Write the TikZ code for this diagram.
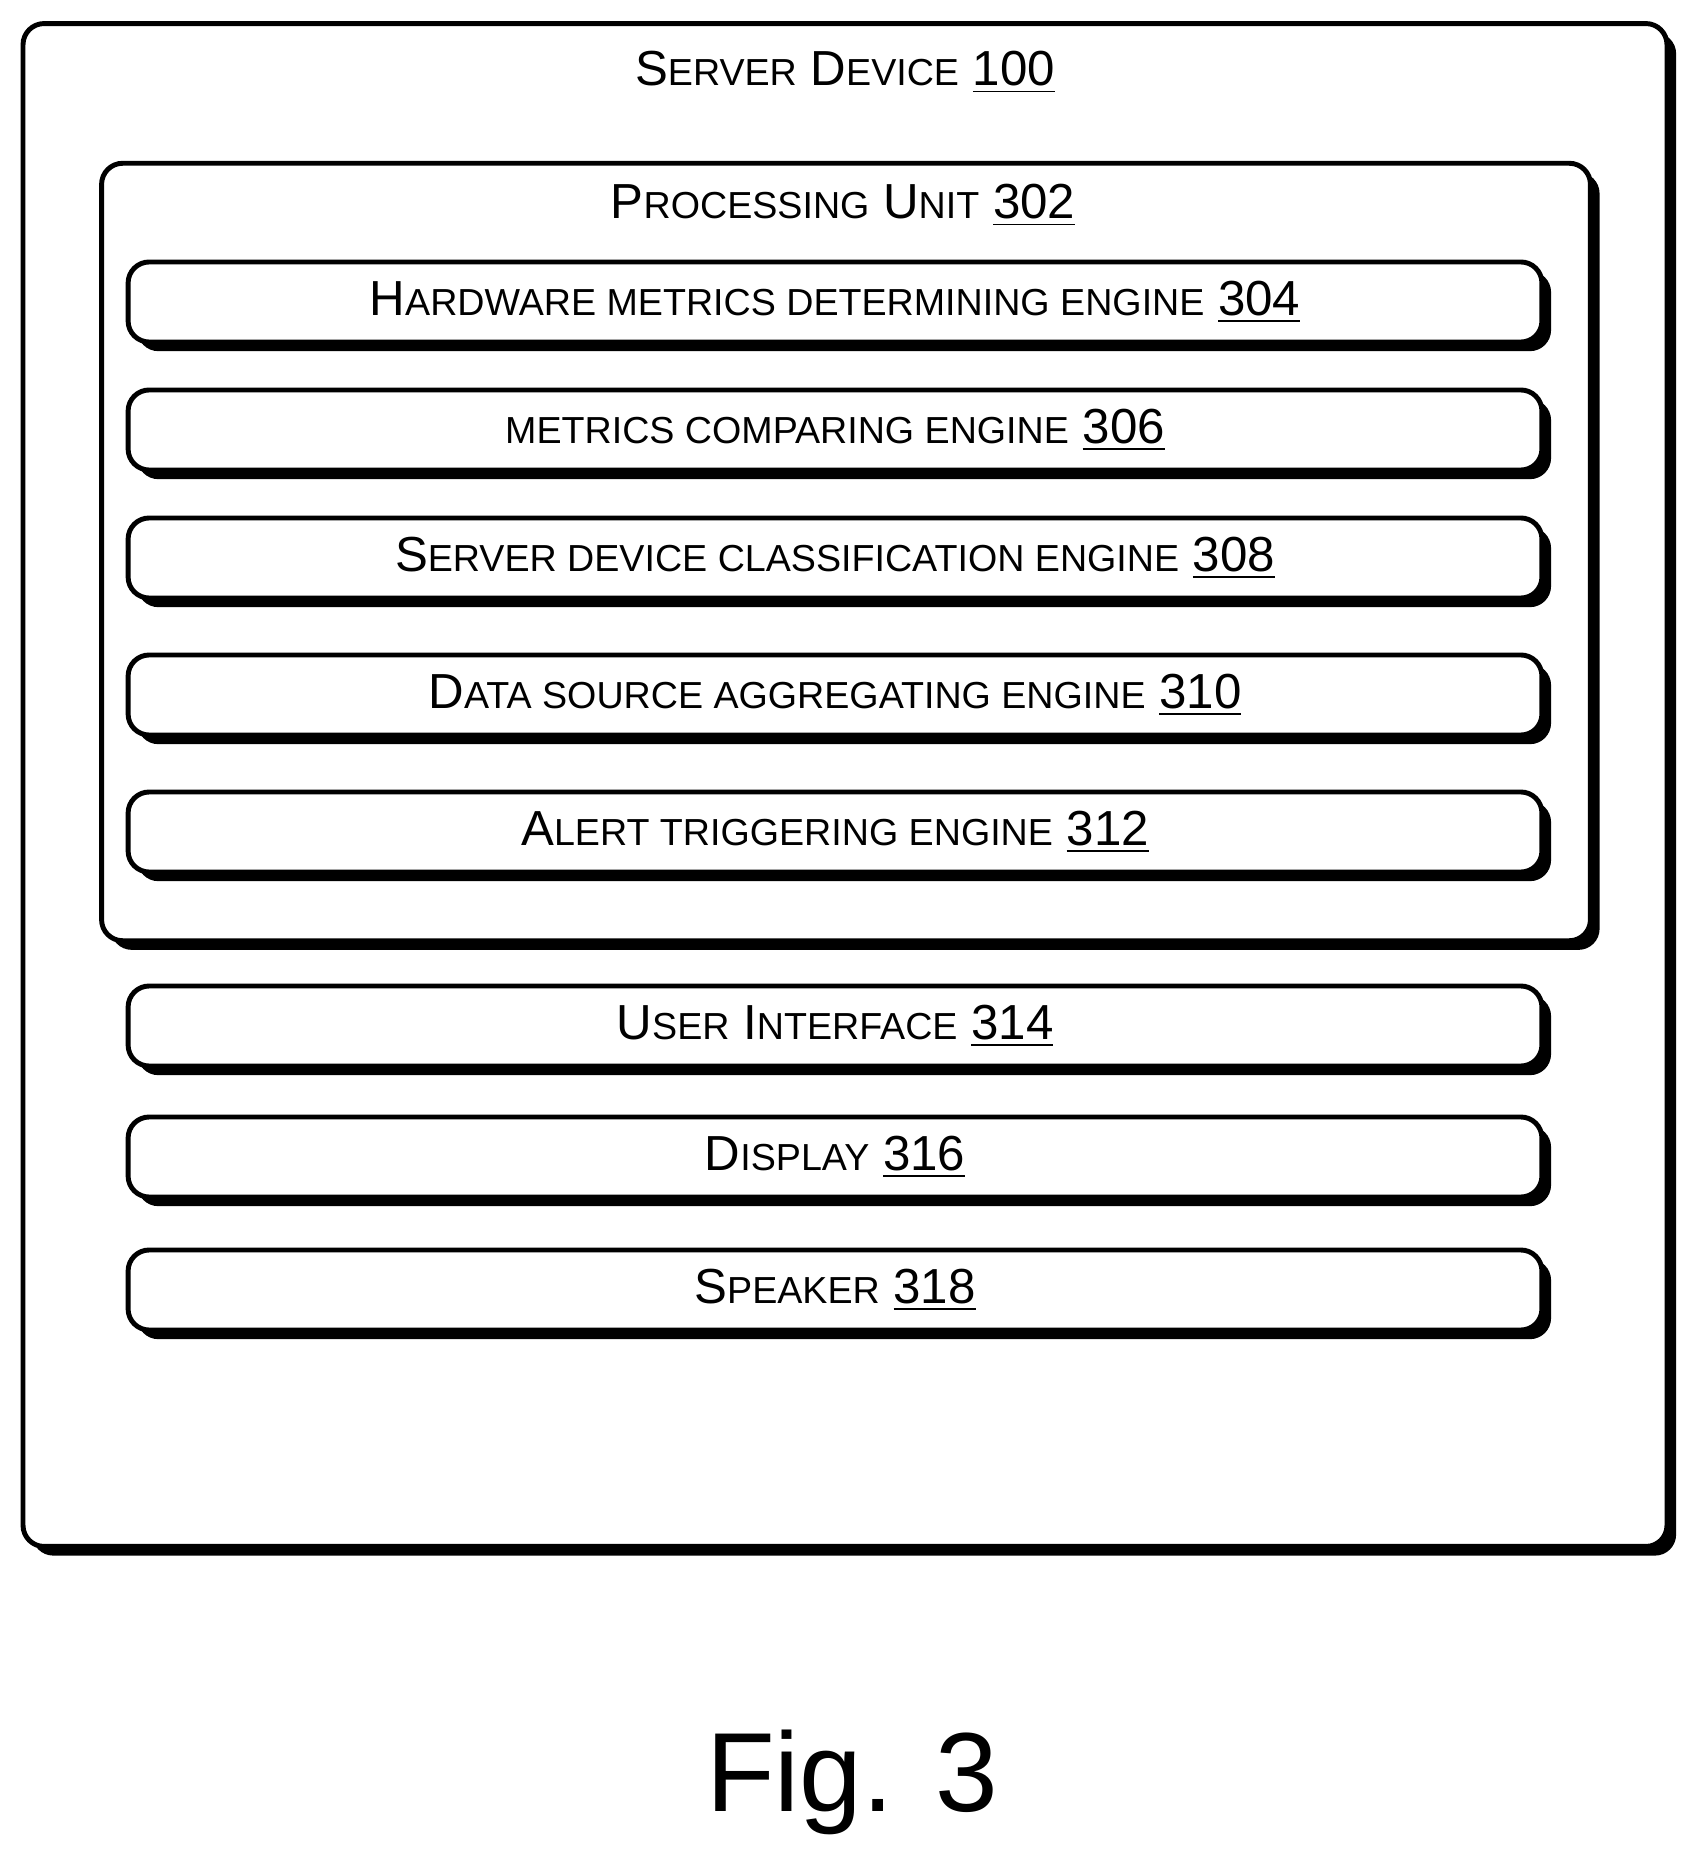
\documentclass[tikz,border=0pt]{standalone}
\usepackage{fontspec}
\setmainfont{Liberation Sans}
\usetikzlibrary{shadows}
\newcommand\sml[1]{{\fontsize{10.7}{12}\selectfont #1}}
\newcommand\num[1]{\underline{#1}}
\tikzset{
  box/.style={draw=black, line width=1.4pt, fill=white, rounded corners=6pt,
    drop shadow={shadow xshift=2.6pt, shadow yshift=-2.6pt, fill=black, opacity=1}},
  engine/.style={box, minimum width=14.13cm, minimum height=0.8cm, font=\fontsize{14}{15}\selectfont},
  title/.style={font=\fontsize{14}{15}\selectfont}
}
\begin{document}
\begin{tikzpicture}[x=0.01cm, y=-0.01cm]
  \useasboundingbox (0,0) rectangle (1691,1864);
  \node[box, minimum width=16.43cm, minimum height=15.22cm] (S) at (845,785) {};
  \node[title, anchor=base] (Stitle) at (845,86) {S\sml{ERVER} D\sml{EVICE} \num{100}};
  \node[box, minimum width=14.88cm, minimum height=7.77cm] (P) at (846,552) {};
  \node[title, anchor=base] (Ptitle) at (843,219) {P\sml{ROCESSING} U\sml{NIT} \num{302}};
  \node[engine] (E304) at (835,302) {H\sml{ARDWARE METRICS DETERMINING ENGINE} \num{304}};
  \node[engine] (E306) at (835,430) {\sml{METRICS COMPARING ENGINE} \num{306}};
  \node[engine] (E308) at (835,558) {S\sml{ERVER DEVICE CLASSIFICATION ENGINE} \num{308}};
  \node[engine] (E310) at (835,695) {D\sml{ATA SOURCE AGGREGATING ENGINE} \num{310}};
  \node[engine] (E312) at (835,832) {A\sml{LERT TRIGGERING ENGINE} \num{312}};
  \node[engine] (UI) at (835,1026) {U\sml{SER} I\sml{NTERFACE} \num{314}};
  \node[engine] (D) at (835,1157) {D\sml{ISPLAY} \num{316}};
  \node[engine] (Sp) at (835,1290) {S\sml{PEAKER} \num{318}};
  \node[font=\fontsize{32}{36}\selectfont] (fig) at (852,1782) {Fig. 3};
\end{tikzpicture}
\end{document}
